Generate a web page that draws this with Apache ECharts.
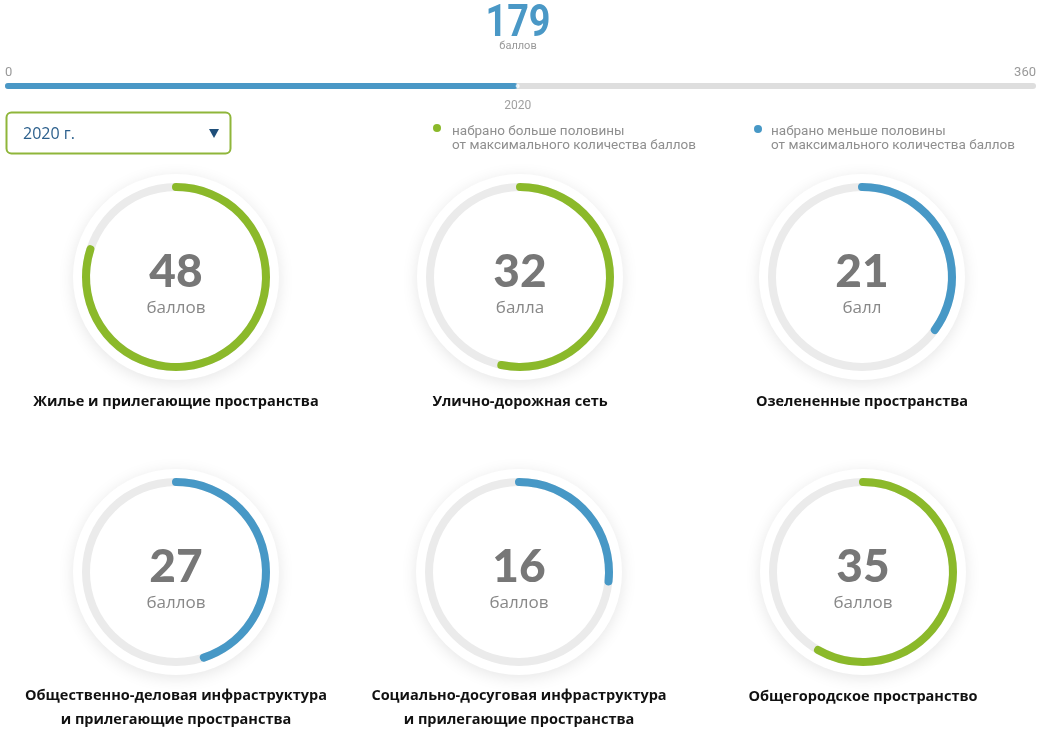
<!DOCTYPE html>
<html><head><meta charset="utf-8">
<script src="https://cdn.jsdelivr.net/npm/echarts@6/dist/echarts.min.js"></script>
<style>html,body{margin:0;padding:0;background:#fff}#c{width:1044px;height:732px}</style>
</head><body><div id="c"></div>
<script>
const categories = [
  'Жилье и прилегающие пространства',
  'Улично-дорожная сеть',
  'Озелененные пространства',
  'Общественно-деловая инфраструктура\nи прилегающие пространства',
  'Социально-досуговая инфраструктура\nи прилегающие пространства',
  'Общегородское пространство'
];
const scores = [48, 32, 21, 27, 16, 35];
const units = ['баллов', 'балла', 'балл', 'баллов', 'баллов', 'баллов'];
const maxScore = 60;
const totalScore = 179;
const totalMax = 360;
const totalUnit = 'баллов';
const year = '2020';
const yearLabel = '2020 г.';
const legendTexts = ['набрано больше половины\nот максимального количества баллов', 'набрано меньше половины\nот максимального количества баллов'];

const GREEN = '#8bb92a', BLUE = '#4798c6';
const centers = [[176,277],[520,277],[862,277],[176,572],[519,572],[863,572]];
const font = "'Open Sans', Lato, sans-serif";

const chart = echarts.init(document.getElementById('c'), null, {renderer:'canvas'});

const graphics = [];
centers.forEach(c => {
  graphics.push({type:'circle', shape:{cx:c[0], cy:c[1], r:103}, style:{fill:'#fff', shadowBlur:16, shadowColor:'rgba(0,0,0,0.10)', shadowOffsetY:3}, z:0});
});
graphics.push(
  {type:'text', x:518, y:25, scaleX:0.84, style:{text:String(totalScore), font:"bold 45px Roboto, sans-serif", fill:'#4a98c6', align:'center', verticalAlign:'middle'}},
  {type:'text', x:518, y:46, style:{text:totalUnit, font:"11px Roboto, sans-serif", fill:'#999', align:'center', verticalAlign:'middle'}},
  {type:'rect', shape:{x:6.5, y:112.5, width:224, height:41, r:5}, style:{fill:'#fff', stroke:'#8fb63a', lineWidth:2}},
  {type:'text', x:23, y:134, style:{text:yearLabel, font:"16px 'Open Sans', sans-serif", fill:'#2b5f8c', verticalAlign:'middle'}},
  {type:'polygon', shape:{points:[[209,129],[219,129],[214,138]]}, style:{fill:'#1f4f7a'}},
  {type:'circle', shape:{cx:437, cy:128, r:4}, style:{fill:GREEN}},
  {type:'text', x:452, y:125, style:{text:legendTexts[0], font:"13.5px Roboto, sans-serif", lineHeight:14, fill:'#8f8f8f', verticalAlign:'top'}},
  {type:'circle', shape:{cx:758, cy:129, r:4}, style:{fill:BLUE}},
  {type:'text', x:771, y:125, style:{text:legendTexts[1], font:"13.5px Roboto, sans-serif", lineHeight:14, fill:'#8f8f8f', verticalAlign:'top'}}
);

const series = [];
scores.forEach((v, i) => {
  const c = centers[i];
  const twoLine = categories[i].indexOf('\n') >= 0;
  series.push({
    type:'gauge', center:c, radius:94, startAngle:90, endAngle:-270, min:0, max:maxScore,
    pointer:{show:false}, axisTick:{show:false}, splitLine:{show:false}, axisLabel:{show:false},
    axisLine:{lineStyle:{width:8, color:[[1,'#ebebeb']]}},
    progress:{show:true, width:8, roundCap:true, itemStyle:{color: v > maxScore/2 ? GREEN : BLUE}},
    title:{offsetCenter:[0, twoLine ? 136 : 125], fontSize:14.5, fontWeight:'bold', color:'#111', lineHeight:24, fontFamily:font},
    detail:{offsetCenter:[0,9], valueAnimation:false,
      formatter: val => '{v|' + val + '}\n{u|' + units[i] + '}',
      rich:{
        v:{fontSize:46, fontWeight:900, color:'#777', lineHeight:44, fontFamily:"Lato, 'Open Sans', sans-serif"},
        u:{fontSize:17, fontWeight:'normal', color:'#888', lineHeight:28, fontFamily:"'Open Sans', sans-serif"}
      }},
    animation:false,
    data:[{value:v, name:categories[i]}]
  });
});

series.push({
  type:'bar', xAxisIndex:0, yAxisIndex:0, data:[totalScore], barWidth:6,
  itemStyle:{color:'#4a98c6', borderRadius:3},
  showBackground:true, backgroundStyle:{color:'#dedede', borderRadius:3},
  animation:false, silent:true
});
series.push({
  type:'scatter', xAxisIndex:0, yAxisIndex:0, data:[[totalScore, 0]], symbolSize:4,
  itemStyle:{color:'#fff'},
  label:{show:true, position:'bottom', distance:12, formatter:year, color:'#888', fontSize:12, fontFamily:'Roboto, sans-serif'},
  animation:false, silent:true, z:5
});

chart.setOption({
  animation:false,
  grid:{left:5, right:8, top:83, height:6},
  xAxis:{type:'value', min:0, max:totalMax, interval:totalMax, position:'top',
    axisLine:{show:false}, axisTick:{show:false}, splitLine:{show:false},
    axisLabel:{color:'#999', fontSize:13, margin:4, fontFamily:'Roboto, sans-serif', alignMinLabel:'left', alignMaxLabel:'right'}},
  yAxis:{type:'category', data:['total'], show:false},
  graphic:graphics,
  series:series
});
</script></body></html>
